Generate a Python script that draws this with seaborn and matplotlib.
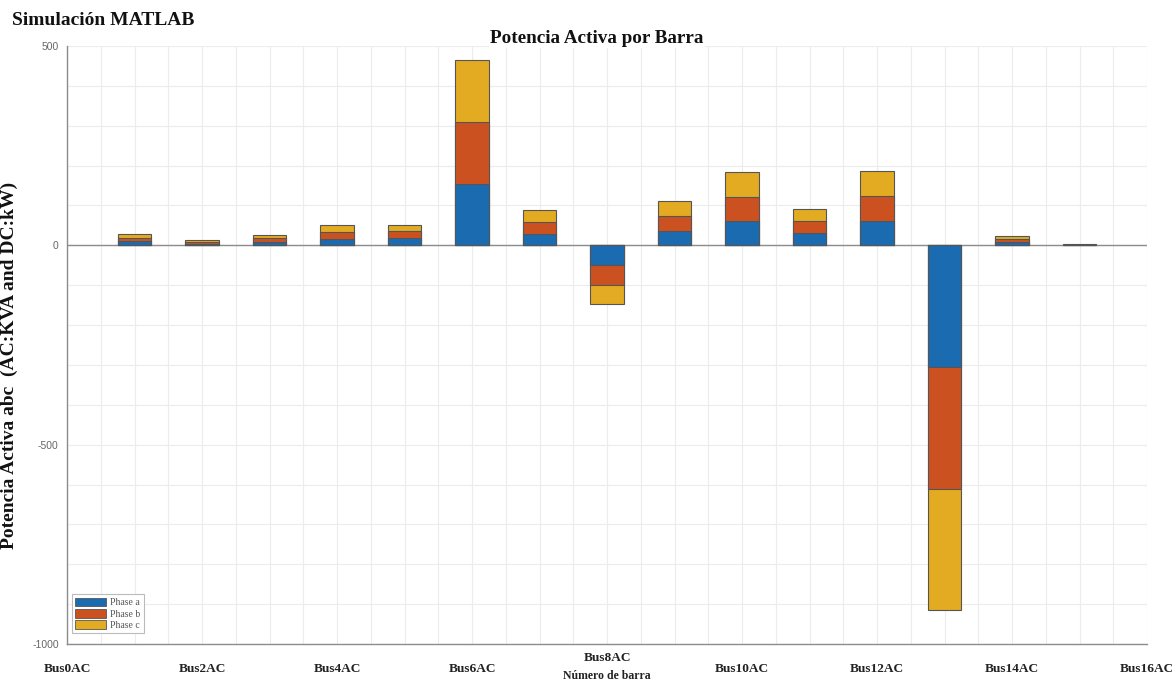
import numpy as np
import pandas as pd
import matplotlib
matplotlib.use("Agg")
import matplotlib.pyplot as plt
import matplotlib.transforms as mtransforms
from matplotlib.patches import Patch
from matplotlib.ticker import MultipleLocator
import seaborn as sns

# Active power per bus and phase (AC: kVA, DC: kW)
bus_numbers = [1, 2, 3, 4, 5, 6, 7, 8, 9, 10, 11, 12, 13, 14, 15]
phase_a = [10, 4, 9, 17, 17.5, 155, 29, -50, 36.5, 61, 30.5, 62, -306, 7.5, 1]
phase_b = [9, 4, 9, 17, 17.5, 154, 29, -49, 36.5, 61, 30.5, 62, -305, 7.5, 1]
phase_c = [9, 4.5, 9, 17, 17, 155, 30, -49, 37, 61, 30.5, 61.5, -305, 7.5, 1]
tick_positions = [0, 2, 4, 6, 8, 10, 12, 14, 16]
tick_labels = ["Bus0AC", "Bus2AC", "Bus4AC", "Bus6AC", "Bus8AC",
               "Bus10AC", "Bus12AC", "Bus14AC", "Bus16AC"]
phase_names = ["Phase a", "Phase b", "Phase c"]
phase_colors = ["#1a6bb0", "#cb5220", "#e2ab22"]

sns.set_theme(style="white")
serif = ["Liberation Serif", "DejaVu Serif"]
plt.rcParams["font.family"] = serif

df = pd.DataFrame({"bus": bus_numbers, "a": phase_a, "b": phase_b, "c": phase_c})
df["ab"] = df["a"] + df["b"]
df["abc"] = df["ab"] + df["c"]

fig = plt.figure(figsize=(11.72, 6.84), dpi=100)
ax = fig.add_axes([0.0572, 0.0585, 0.9215, 0.8743])

# Stacked bars: draw the cumulative totals back to front
for col, color in zip(["abc", "ab", "a"], phase_colors[::-1]):
    sns.barplot(data=df, x="bus", y=col, native_scale=True, width=0.5,
                color=color, saturation=1, errorbar=None,
                edgecolor="#555555", linewidth=0.8, ax=ax, zorder=3)

ax.axhline(0, color="#8c8c8c", lw=1.0, zorder=2)

ax.set_xlim(0, 16)
ax.set_ylim(-1000, 500)
ax.xaxis.set_major_locator(MultipleLocator(2))
ax.xaxis.set_minor_locator(MultipleLocator(0.5))
ax.yaxis.set_major_locator(MultipleLocator(500))
ax.yaxis.set_minor_locator(MultipleLocator(100))
ax.grid(which="both", color="#ececec", lw=0.8, zorder=0)
ax.set_axisbelow(True)

for side in ["top", "right"]:
    ax.spines[side].set_visible(False)
for side in ["left", "bottom"]:
    ax.spines[side].set_color("#8c8c8c")
    ax.spines[side].set_linewidth(1.0)

ax.set_xticks(tick_positions)
ax.set_xticklabels(tick_labels, fontfamily=serif, fontweight="bold",
                   fontsize=9.6, color="#222222")
ax.tick_params(axis="x", which="major", direction="in", length=7,
               color="#8c8c8c", pad=14)
ax.tick_params(axis="x", which="minor", length=0)
ax.tick_params(axis="y", which="major", direction="in", length=6,
               color="#8c8c8c", pad=6)
ax.tick_params(axis="y", which="minor", length=0)
ax.set_yticks([-1000, -500, 0, 500])
ax.set_yticklabels(["-1000", "-500", "0", "500"],
                   fontfamily=["Liberation Sans", "DejaVu Sans"],
                   fontsize=7.5, color="#666666")

# Lift the centre label so the axis title sits below it
lbl = ax.get_xticklabels()[4]
lbl.set_transform(lbl.get_transform() +
                  mtransforms.ScaledTranslation(0, 8 / 72, fig.dpi_scale_trans))

ax.set_xlabel("Número de barra", fontfamily=serif, fontweight="bold",
              fontsize=8.5, color="#222222", labelpad=-4)
ax.set_ylabel("Potencia Activa abc  (AC:KVA and DC:kW)", fontfamily=serif,
              fontweight="bold", fontsize=14, color="#111111")
ax.yaxis.set_label_coords(-0.045, 0.465)

fig.text(0.509, 0.944, "Potencia Activa por Barra", ha="center", va="center",
         fontfamily=serif, fontweight="bold", fontsize=13.8, color="#111111",
         bbox=dict(facecolor="white", edgecolor="none", pad=1))
fig.text(0.010, 0.970, "Simulación MATLAB", ha="left", va="center",
         fontfamily=serif, fontweight="bold", fontsize=14, color="#111111")

handles = [Patch(facecolor=c, edgecolor="#555555", linewidth=0.6, label=n)
           for c, n in zip(phase_colors, phase_names)]
leg = ax.legend(handles=handles, loc="lower left", bbox_to_anchor=(0.0, 0.01),
                prop={"family": serif, "size": 7}, frameon=True, fancybox=False,
                edgecolor="#bbbbbb", handlelength=3.2, handleheight=1.0,
                handletextpad=0.4, borderpad=0.35, labelspacing=0.15,
                framealpha=1)
leg.get_frame().set_linewidth(0.8)
for t in leg.get_texts():
    t.set_color("#555555")

fig.savefig("out.png", dpi=100)
